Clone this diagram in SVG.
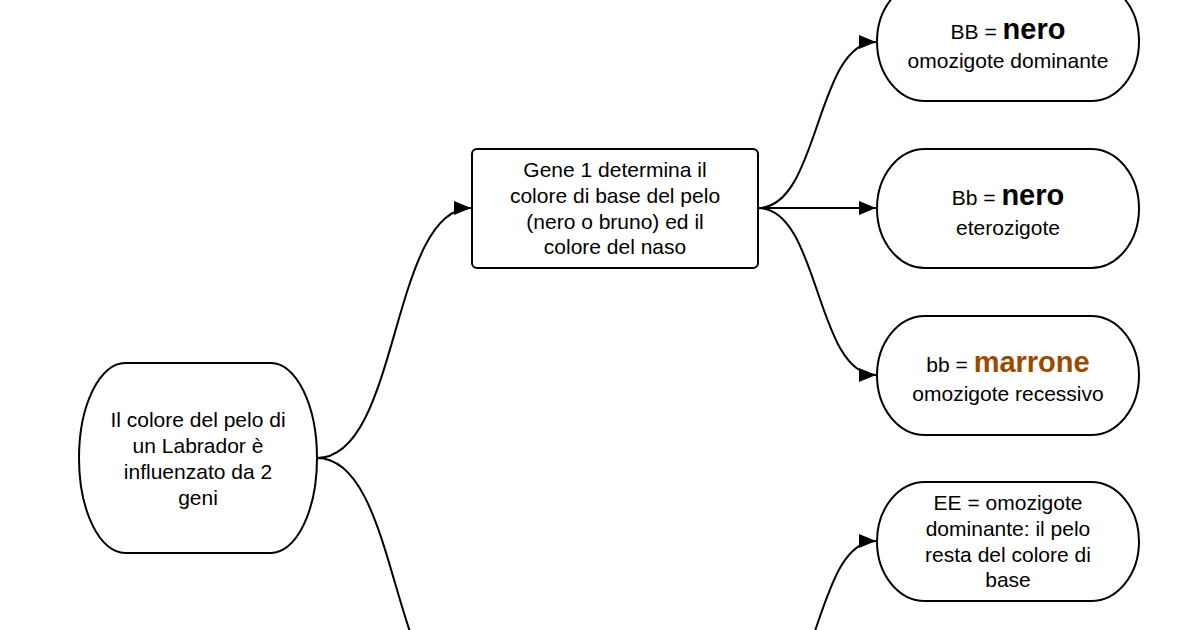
<svg xmlns="http://www.w3.org/2000/svg" width="1200" height="630" viewBox="0 0 1200 630">
<style>
.n{fill:#fff;stroke:#000;stroke-width:2}
.c{fill:none;stroke:#000;stroke-width:2}
text{font-family:"Liberation Sans",Arial,sans-serif;font-size:21px;fill:#000;text-anchor:middle}
.b{font-weight:bold;font-size:29px}
.m{fill:#9c4a00}
</style>
<defs>
<marker id="ah" markerWidth="17" markerHeight="14" refX="17" refY="7" orient="auto" markerUnits="userSpaceOnUse">
<path d="M0,0 L17,7 L0,14 Z" fill="#000"/>
</marker>
</defs>
<rect width="1200" height="630" fill="#fff"/>
<g id="connectors">
<path class="c" d="M317,458 C400,458 390,208 471,208" marker-end="url(#ah)"/>
<path class="c" d="M317,458 C400,458 390,707 472,707"/>
<path class="c" d="M758,208 C820,208 815,42 876,42" marker-end="url(#ah)"/>
<path class="c" d="M758,208 L876,208" marker-end="url(#ah)"/>
<path class="c" d="M758,208 C820,208 815,375 876,375" marker-end="url(#ah)"/>
<path class="c" d="M758,707 C820,707 815,541 876,541" marker-end="url(#ah)"/>
</g>
<g id="root">
<rect class="n" x="79" y="363" width="238" height="190" rx="46" ry="95"/>
<text x="198" y="427">Il colore del pelo di</text>
<text x="198" y="453">un Labrador è</text>
<text x="198" y="479">influenzato da 2</text>
<text x="198" y="505">geni</text>
</g>
<g id="gene1">
<rect class="n" x="472" y="149" width="286" height="119" rx="5"/>
<text x="615" y="177">Gene 1 determina il</text>
<text x="615" y="203">colore di base del pelo</text>
<text x="615" y="229">(nero o bruno) ed il</text>
<text x="615" y="254">colore del naso</text>
</g>
<g id="BB">
<rect class="n" x="877" y="-18" width="262" height="119" rx="48" ry="59.5"/>
<text x="1008" y="39">BB = <tspan class="b">nero</tspan></text>
<text x="1008" y="68">omozigote dominante</text>
</g>
<g id="Bb">
<rect class="n" x="877" y="149" width="262" height="119" rx="48" ry="59.5"/>
<text x="1008" y="205">Bb = <tspan class="b">nero</tspan></text>
<text x="1008" y="235">eterozigote</text>
</g>
<g id="bb">
<rect class="n" x="877" y="316" width="262" height="119" rx="48" ry="59.5"/>
<text x="1008" y="372">bb = <tspan class="b m">marrone</tspan></text>
<text x="1008" y="401">omozigote recessivo</text>
</g>
<g id="EE">
<rect class="n" x="877" y="482" width="262" height="119" rx="48" ry="59.5"/>
<text x="1008" y="510">EE = omozigote</text>
<text x="1008" y="536">dominante: il pelo</text>
<text x="1008" y="562">resta del colore di</text>
<text x="1008" y="587">base</text>
</g>
</svg>
